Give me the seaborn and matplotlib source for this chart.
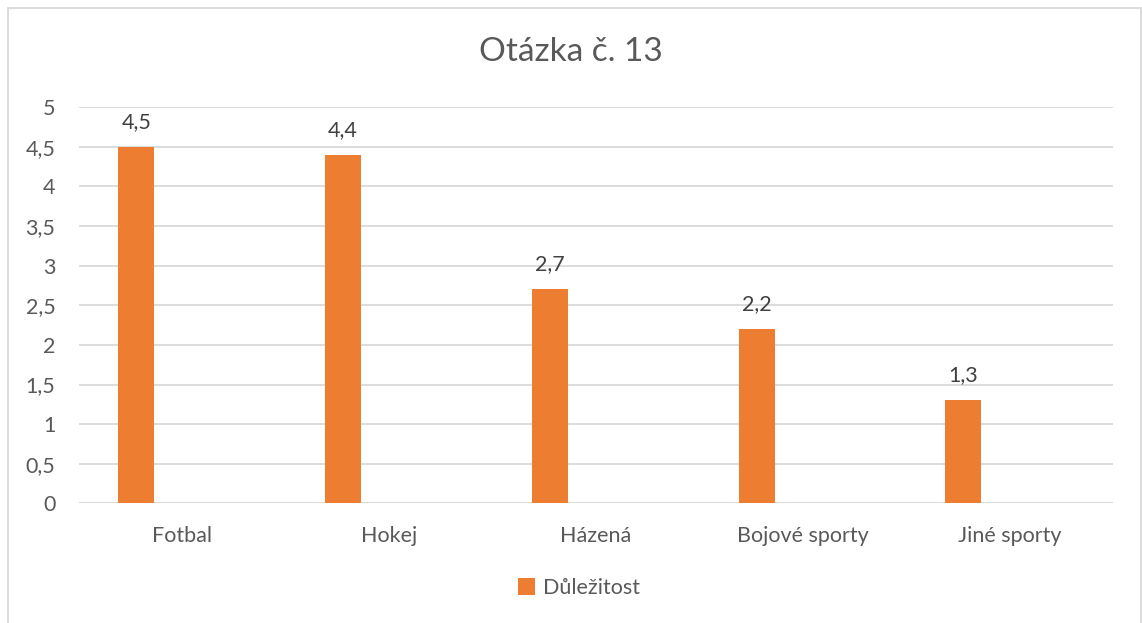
import matplotlib
matplotlib.use("Agg")
import matplotlib.pyplot as plt
import seaborn as sns
import pandas as pd
from matplotlib.patches import Rectangle, Patch

categories = ["Fotbal", "Hokej", "Házená", "Bojové sporty", "Jiné sporty"]
values = [4.5, 4.4, 2.7, 2.2, 1.3]
series_name = "Důležitost"
title = "Otázka č. 13"
yticks = [0, 0.5, 1, 1.5, 2, 2.5, 3, 3.5, 4, 4.5, 5]

sns.set_theme(style="white")
plt.rcParams["font.family"] = ["Lato", "DejaVu Sans"]

TXT = "#595959"
BAR = "#ED7D31"
GRID = "#D9D9D9"
FS = 15.5

fig = plt.figure(figsize=(11.42, 6.23), dpi=100)
ax = fig.add_axes([79/1142, 1-503.3/623, (1113-79)/1142, (503.3-107.3)/623])

df = pd.DataFrame({"cat": categories, "val": values})
sns.barplot(data=df, x="cat", y="val", color=BAR, width=0.174, ax=ax,
            saturation=1, errorbar=None)

shift = -0.223
for p in ax.patches:
    p.set_x(p.get_x() + shift)
    p.set_edgecolor("none")
    h = p.get_height()
    label = f"{h:.1f}".replace(".", ",")
    ax.annotate(label, (p.get_x() + p.get_width()/2, h), xytext=(0, 15),
                textcoords="offset pixels", ha="center", va="bottom",
                fontsize=FS, color="#404040")

ax.set_xlim(-0.5, len(categories) - 0.5)
ax.set_ylim(0, 5)
ax.set_yticks(yticks)
ax.set_yticklabels([f"{t:g}".replace(".", ",") for t in yticks])
ax.yaxis.grid(True, color=GRID, linewidth=1.3)
ax.set_axisbelow(True)
for s in ax.spines.values():
    s.set_visible(False)
ax.axhline(0, color=GRID, linewidth=1.3, zorder=0.5)
ax.tick_params(axis="y", labelsize=FS, labelcolor=TXT, length=0, pad=17)
ax.tick_params(axis="x", labelsize=FS, labelcolor=TXT, length=0, pad=16)
ax.set_xlabel("")
ax.set_ylabel("")

fig.text(0.5, 1-52/623, title, ha="center", va="center", fontsize=24, color=TXT)

leg = fig.legend(handles=[Patch(facecolor=BAR, edgecolor="none", label=series_name)],
                 loc="center", bbox_to_anchor=(579/1142, 1-588/623), frameon=False,
                 fontsize=FS, labelcolor=TXT, handlelength=0.8, handleheight=0.8,
                 handletextpad=0.4)

fig.patches.append(Rectangle((8/1142, -0.05), (1141-8)/1142, 1.05 - 8/623,
                             transform=fig.transFigure, fill=False,
                             edgecolor="#D9D9D9", linewidth=1.3))

fig.savefig("out.png", dpi=100, facecolor="white")
